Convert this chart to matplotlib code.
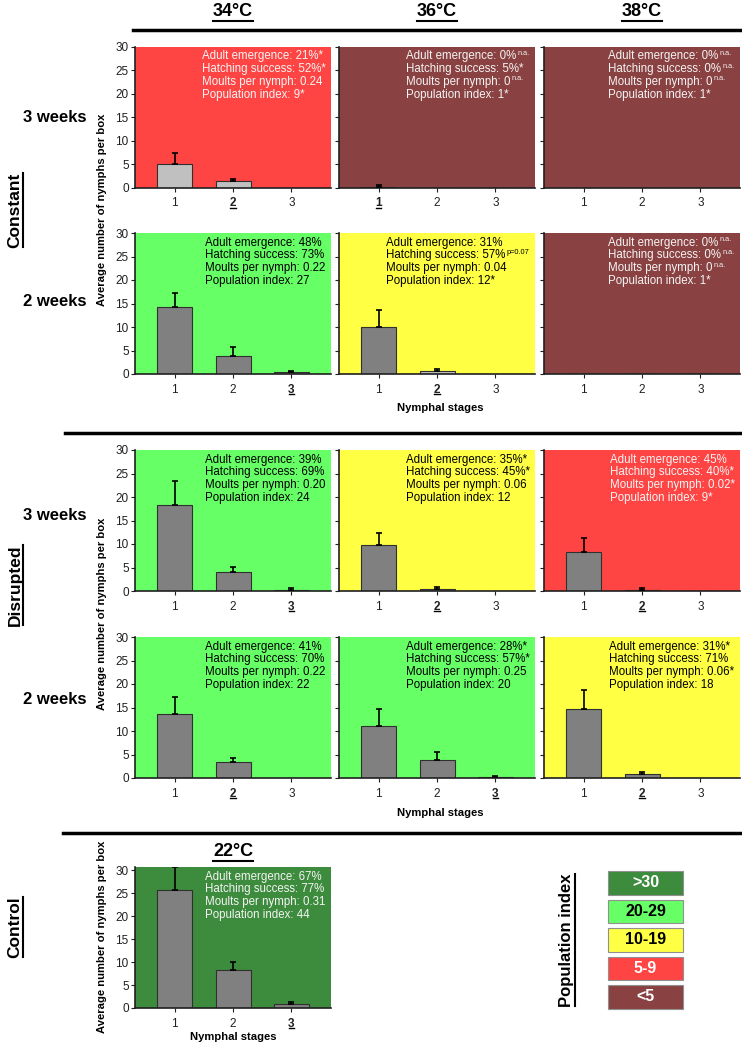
import numpy as np
import matplotlib.pyplot as plt
from matplotlib.lines import Line2D
from matplotlib.patches import Rectangle

plt.rcParams['font.family'] = ['Liberation Sans', 'DejaVu Sans']

# ---- data ----
stages = [1, 2, 3]
temps = ["34°C", "36°C", "38°C"]
row_names = ["3 weeks", "2 weeks", "3 weeks", "2 weeks"]

# average number of nymphs per box for stages 1-3, one list per temperature
const_3wk_mean = [[5.1, 1.35, 0.0], [0.15, 0.0, 0.0], [0.0, 0.0, 0.0]]
const_3wk_err = [[2.3, 0.5, 0.0], [0.5, 0.0, 0.0], [0.0, 0.0, 0.0]]
const_2wk_mean = [[14.2, 3.85, 0.35], [9.95, 0.55, 0.0], [0.0, 0.0, 0.0]]
const_2wk_err = [[3.1, 1.85, 0.35], [3.65, 0.5, 0.0], [0.0, 0.0, 0.0]]
disr_3wk_mean = [[18.2, 4.05, 0.2], [9.75, 0.5, 0.0], [8.2, 0.25, 0.0]]
disr_3wk_err = [[5.1, 1.05, 0.4], [2.6, 0.4, 0.0], [3.1, 0.35, 0.0]]
disr_2wk_mean = [[13.7, 3.45, 0.0], [11.1, 3.9, 0.2], [14.75, 0.9, 0.0]]
disr_2wk_err = [[3.5, 0.8, 0.0], [3.5, 1.7, 0.3], [3.9, 0.4, 0.0]]
control_mean = [25.8, 8.35, 0.95]
control_err = [4.8, 1.65, 0.4]

# population index of each panel
const_3wk_index = [9, 1, 1]
const_2wk_index = [27, 12, 1]
disr_3wk_index = [24, 12, 9]
disr_2wk_index = [22, 20, 18]
control_index = 44

# stage label printed bold + underlined
const_3wk_mark = [2, 1, None]
const_2wk_mark = [3, 2, None]
disr_3wk_mark = [3, 2, 2]
disr_2wk_mark = [2, 3, 2]
control_mark = 3

# (row, column, stage) of bars drawn light grey
light_bars = [(0, 0, 1), (0, 0, 2), (1, 1, 2)]

# text after "^" is a superscript
const_3wk_info = [
    ["Adult emergence: 21%*", "Hatching success: 52%*", "Moults per nymph: 0.24", "Population index: 9*"],
    ["Adult emergence: 0%^n.a.", "Hatching success: 5%*", "Moults per nymph: 0^n.a.", "Population index: 1*"],
    ["Adult emergence: 0%^n.a.", "Hatching success: 0%^n.a.", "Moults per nymph: 0^n.a.", "Population index: 1*"],
]
const_2wk_info = [
    ["Adult emergence: 48%", "Hatching success: 73%", "Moults per nymph: 0.22", "Population index: 27"],
    ["Adult emergence: 31%", "Hatching success: 57%^p=0.07", "Moults per nymph: 0.04", "Population index: 12*"],
    ["Adult emergence: 0%^n.a.", "Hatching success: 0%^n.a.", "Moults per nymph: 0^n.a.", "Population index: 1*"],
]
disr_3wk_info = [
    ["Adult emergence: 39%", "Hatching success: 69%", "Moults per nymph: 0.20", "Population index: 24"],
    ["Adult emergence: 35%*", "Hatching success: 45%*", "Moults per nymph: 0.06", "Population index: 12"],
    ["Adult emergence: 45%", "Hatching success: 40%*", "Moults per nymph: 0.02*", "Population index: 9*"],
]
disr_2wk_info = [
    ["Adult emergence: 41%", "Hatching success: 70%", "Moults per nymph: 0.22", "Population index: 22"],
    ["Adult emergence: 28%*", "Hatching success: 57%*", "Moults per nymph: 0.25", "Population index: 20"],
    ["Adult emergence: 31%*", "Hatching success: 71%", "Moults per nymph: 0.06*", "Population index: 18"],
]
control_info = ["Adult emergence: 67%", "Hatching success: 77%", "Moults per nymph: 0.31", "Population index: 44"]

index_labels = [">30", "20-29", "10-19", "5-9", "<5"]
index_lower = [30, 20, 10, 5, 0]
index_colors = ["#3D8B3D", "#66FF66", "#FFFF44", "#FF4444", "#8A4141"]
index_dark = [True, False, False, True, True]


def index_style(v):
    for lo, c, d in zip(index_lower, index_colors, index_dark):
        if v >= lo:
            return c, d


# ---- figure ----
W, H = 742, 1044
fig = plt.figure(figsize=(W / 100, H / 100), dpi=100)


def px_axes(left, top, w, h):
    return fig.add_axes([left / W, 1 - (top + h) / H, w / W, h / H])


def fx(x):
    return x / W


def fy(y):
    return 1 - y / H


blocks = []
marks = []


def draw_panel(ax, means, errs, index, info, mark, light, ytop=30, ylabels=True):
    bg, dark = index_style(index)
    ax.set_facecolor(bg)
    cols = ["#C0C0C0" if s in light else "#808080" for s in stages]
    ax.bar(stages, means, width=0.6, color=cols, edgecolor="#303030", linewidth=0.8, zorder=2)
    nz = [i for i, m in enumerate(means) if m > 0 and errs[i] > 0]
    if nz:
        ax.errorbar([stages[i] for i in nz], [means[i] for i in nz],
                    yerr=[[0] * len(nz), [errs[i] for i in nz]], fmt='none',
                    ecolor='black', elinewidth=1.2, capsize=2, capthick=1.2, zorder=3)
    ax.set_xlim(0.32, 3.68)
    ax.set_ylim(0, ytop)
    ax.set_yticks(range(0, 31, 5))
    ax.set_xticks(stages, labels=[str(s) for s in stages])
    for sp in ['top', 'right']:
        ax.spines[sp].set_visible(False)
    for sp in ['left', 'bottom']:
        ax.spines[sp].set_color('#202020')
        ax.spines[sp].set_linewidth(1.2)
    ax.tick_params(direction='out', length=3, width=0.8, labelsize=8.5, colors='#202020', pad=1.5)
    ax.tick_params(axis='x', pad=4)
    if not ylabels:
        ax.tick_params(labelleft=False)
    if mark is not None:
        lab = ax.get_xticklabels()[mark - 1]
        lab.set_fontweight('bold')
        marks.append((ax, mark - 1))
    tc = '#F4F4F4' if dark else 'black'
    hpx = ax.get_position().height * H
    lines = []
    for k, line in enumerate(info):
        main, _, sup = line.partition("^")
        y = 1 - (12.6 + 12.8 * k) / hpx
        t = ax.text(0.35, y, main, transform=ax.transAxes,
                    fontsize=8.3, color=tc, va='baseline', ha='left', zorder=4)
        s = None
        if sup:
            s = ax.text(0.35, y + 4.5 / hpx, sup, transform=ax.transAxes,
                        fontsize=5.3, color=tc, va='baseline', ha='left', zorder=4)
        lines.append((t, s))
    blocks.append((ax, lines))


col_left = [135, 339, 544]
col_w = 196
row_top = [46.7, 233, 450, 637]
row_h = 141

row_means = [const_3wk_mean, const_2wk_mean, disr_3wk_mean, disr_2wk_mean]
row_errs = [const_3wk_err, const_2wk_err, disr_3wk_err, disr_2wk_err]
row_index = [const_3wk_index, const_2wk_index, disr_3wk_index, disr_2wk_index]
row_info = [const_3wk_info, const_2wk_info, disr_3wk_info, disr_2wk_info]
row_mark = [const_3wk_mark, const_2wk_mark, disr_3wk_mark, disr_2wk_mark]

for r in range(4):
    for c in range(3):
        ax = px_axes(col_left[c], row_top[r], col_w, row_h)
        light = [s for (rr, cc, s) in light_bars if rr == r and cc == c]
        draw_panel(ax, row_means[r][c], row_errs[r][c], row_index[r][c], row_info[r][c],
                   row_mark[r][c], light, ylabels=(c == 0))

axc = px_axes(135, 867, col_w, 141)
draw_panel(axc, control_mean, control_err, control_index, control_info, control_mark, [], ytop=30.7)

# headers
headers = []
for c, t in enumerate(temps):
    headers.append(fig.text(fx(col_left[c] + col_w / 2), fy(12), t, fontsize=13,
                            fontweight='bold', ha='center', va='center'))
headers.append(fig.text(fx(233), fy(852), "22°C", fontsize=13,
                        fontweight='bold', ha='center', va='center'))

row_y = [117, 301, 515, 700]
for name, y in zip(row_names, row_y):
    fig.text(fx(55), fy(y), name, fontsize=12, fontweight='bold', ha='center', va='center')

groups = []
for name, y in [("Constant", 210), ("Disrupted", 585), ("Control", 927)]:
    groups.append(fig.text(fx(15), fy(y), name, fontsize=12.5, fontweight='bold',
                           rotation=90, ha='center', va='center'))

ylab = "Average number of nymphs per box"
for y in [210, 614, 937]:
    fig.text(fx(102), fy(y), ylab, fontsize=8.1, fontweight='bold', rotation=90, ha='center', va='center')

for x, y in [(440, 408), (440, 813), (233, 1037)]:
    fig.text(fx(x), fy(y), "Nymphal stages", fontsize=8.1, fontweight='bold', ha='center', va='center')

# separators
for x0, y in [(133, 30), (65, 433), (63, 833)]:
    fig.add_artist(Line2D([fx(x0), fx(740)], [fy(y), fy(y)], color='black', lw=2.5))

# population index legend
pi_title = fig.text(fx(567), fy(940), "Population index", fontsize=12,
                    fontweight='bold', rotation=90, ha='center', va='center')
box_top = [871, 899.5, 928, 956.5, 985]
for lab, col, dark, top in zip(index_labels, index_colors, index_dark, box_top):
    fig.add_artist(Rectangle((fx(608), fy(top + 23.5)), 75 / W, 23.5 / H, transform=fig.transFigure,
                             facecolor=col, edgecolor='#909090', lw=0.8))
    fig.text(fx(645.5), fy(top + 11.75), lab, fontsize=11.5, fontweight='bold',
             color='white' if dark else 'black', ha='center', va='center')

# ---- align info blocks (right edge ~5 px from panel edge) and underline ----
fig.canvas.draw()
renderer = fig.canvas.get_renderer()
inv = fig.transFigure.inverted()

for ax, lines in blocks:
    bb = ax.get_window_extent(renderer)
    widths = []
    for t, s in lines:
        w = t.get_window_extent(renderer).width
        sw = s.get_window_extent(renderer).width + 1 if s is not None else 0
        widths.append((w, sw))
    maxw = max(w + sw for w, sw in widths)
    xl = bb.x1 - 5.5 - maxw
    for (t, s), (w, sw) in zip(lines, widths):
        t.set_x((xl - bb.x0) / bb.width)
        if s is not None:
            s.set_x((xl + w + 1 - bb.x0) / bb.width)


def underline(t, lw=1.2, pad=0.0):
    bb = t.get_window_extent(renderer)
    if t.get_rotation() == 90:
        x = bb.x1 + pad
        pts = [(x, bb.y0 + 1), (x, bb.y1 - 1)]
    else:
        y = bb.y0 - pad
        pts = [(bb.x0 + 0.5, y), (bb.x1 - 0.5, y)]
    (x0, y0), (x1, y1) = inv.transform(pts)
    fig.add_artist(Line2D([x0, x1], [y0, y1], color='black', lw=lw))


for t in headers + groups + [pi_title]:
    underline(t, lw=1.5)
for ax, i in marks:
    underline(ax.get_xticklabels()[i], lw=1.0, pad=-1.5)

fig.savefig('out.png', dpi=100)
